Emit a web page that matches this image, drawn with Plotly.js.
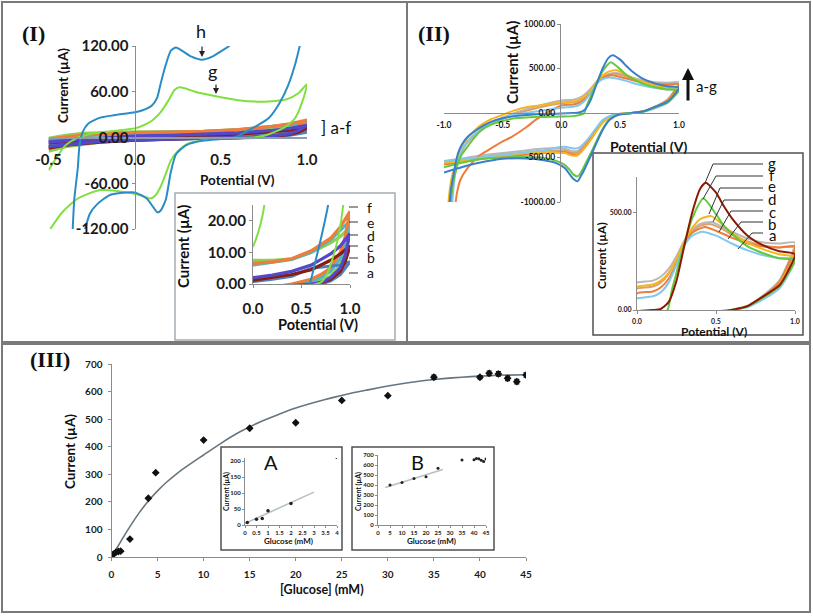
<!DOCTYPE html>
<html><head><meta charset="utf-8">
<script src="https://cdn.plot.ly/plotly-3.0.1.min.js"></script>
<style>html,body{margin:0;padding:0;background:#fff}#chart{width:813px;height:616px}</style>
</head><body><div id="chart"></div>
<script>
// ---------------- Panel I : CV curves (Potential V, Current µA) ----------------
const p1LoopX = [-0.5,-0.4,-0.3,-0.2,-0.1,0,0.2,0.4,0.6,0.8,0.9,1.0,0.95,0.9,0.8,0.7,0.6,0.4,0.2,0,-0.2,-0.4,-0.5];
const p1_a_y = [-5,-3,-2,-1,0,0.8,1.5,2.5,5,5.5,6,7, 5,3,1,0,-0.5,-1,-2,-3,-5,-8,-10];
const p1_b_y = [-7,-5,-3,-2,0,1.2,2,3,4.5,7.5,9.5,12, 7,4,1.5,0.3,-0.3,-1,-2,-3.5,-6,-10,-14];
const p1_c_y = [-1,3,5.5,6.5,7.5,7.5,7.5,8,10,13,15,18, 11,6,2.5,1,0,-1,-2,-3,-6,-12,-18];
const p1_d_y = [-6,-4,-2,-1,0.5,2,2.8,4,6,9.5,12,16, 9,5,2,0.5,0,-0.5,-1.5,-3,-5,-9,-12];
const p1_e_y = [-3,0,2,3.5,5,6,7,7.8,10,14,17,20, 13,8,4,2,1,-0.5,-1.5,-3,-5,-9,-14];
const p1_f_y = [-2,1,3,4,5,6.5,7,8,10.5,14.5,18,23, 15,10,5,3,1.5,0,-1,-2,-4,-8,-12];
const p1_g_x = [-0.5,-0.45,-0.4,-0.33,-0.25,-0.15,0,0.05,0.1,0.15,0.2,0.23,0.26,0.3,0.35,0.45,0.6,0.75,0.88,0.95,1.0,0.97,0.93,0.88,0.82,0.76,0.7,0.58,0.45,0.31,0.25,0.21,0.18,0.15,0.12,0.09,0.04,-0.04,-0.2,-0.33,-0.42,-0.49];
const p1_g_y = [-43,-25,-10,0,5,8,12,16,22,33,50,62,66,64,60,55,49,47,50,58,70,45,25,15,8,3,0.5,-0.5,-2,-8,-18,-30,-48,-65,-76,-80,-76,-72,-69,-80,-98,-120];
const p1_h_x = [0.55,0.5,0.45,0.39,0.33,0.28,0.24,0.21,0.18,0.15,0.13,0.1,0.05,0,-0.1,-0.2,-0.27,-0.3,-0.32,-0.33,-0.35,-0.36,null,
                -0.29,-0.26,-0.22,-0.14,0,0.07,0.11,0.13,0.15,0.18,0.21,0.24,0.3,0.4,0.5,0.58,0.65,0.72,0.78,0.84,0.89,0.93,0.96];
const p1_h_y = [120,113,106,102,106,113,118,114,95,70,52,42,36,33,30,26,18,8,-10,-40,-80,-122,null,
                -122,-100,-88,-75,-72,-80,-92,-98,-96,-82,-45,-22,-10,-4,-2,0,8,17,26,45,68,95,122];
const p1Labels = ['a','b','c','d','e','f','g','h'];

// ---------------- Panel II : CV curves with glucose ----------------
const p2LowerX = [0.95,0.9,0.8,0.7,0.6,0.5,0.45,0.4,0.35,0.3,0.25,0.2,0.16,0.137,0.1,0.07,0.03,-0.05,-0.15,-0.3,-0.5,-0.7,-0.85,-1.0];
const p2_a_upX = [-0.93,-0.92,-0.9,-0.87,-0.85,-0.8,-0.7,-0.6,-0.5,-0.4,-0.2,0,0.1,0.15,0.2,0.25,0.3,0.35,0.41,0.5,0.6,0.7,0.8,0.9,1.0];
const p2_a_upY = [-1050,-850,-650,-500,-420,-320,-200,-120,-60,-20,20,60,70,90,140,230,330,380,400,380,340,305,280,265,260];
const p2_a_loY = [170,110,55,15,0,-10,-20,-40,-80,-160,-250,-330,-380,-395,-398,-390,-380,-390,-420,-440,-470,-500,-520,-545];
const p2_b_upX = [-0.905,-0.89,-0.86,-0.8,-0.7,-0.62,-0.5,-0.42,-0.3,-0.22,-0.1,0,0.1,0.15,0.2,0.25,0.3,0.35,0.43,0.5,0.6,0.7,0.8,0.9,1.0];
const p2_b_upY = [-1050,-900,-750,-620,-480,-414,-320,-265,-160,-78,20,85,95,115,160,240,340,395,425,405,370,340,325,320,325];
const p2_b_loY = [220,140,70,20,0,-10,-25,-55,-105,-190,-290,-380,-440,-465,-470,-455,-440,-440,-450,-470,-490,-520,-550,-580];
const p2_c_upX = [-0.95,-0.93,-0.91,-0.88,-0.85,-0.8,-0.7,-0.6,-0.5,-0.4,-0.2,0,0.1,0.15,0.2,0.25,0.3,0.35,0.4,0.47,0.55,0.6,0.7,0.8,0.9,1.0];
const p2_c_upY = [-1050,-800,-650,-520,-420,-320,-200,-110,-50,0,80,140,150,170,210,275,355,410,440,450,420,400,365,345,340,345];
const p2_c_loY = [230,150,75,22,2,-8,-20,-45,-90,-170,-260,-340,-400,-425,-430,-420,-405,-395,-400,-420,-450,-480,-510,-540];
const p2_d_upX = [-0.965,-0.95,-0.93,-0.91,-0.88,-0.85,-0.8,-0.76,-0.7,-0.6,-0.5,-0.4,-0.28,-0.1,0,0.1,0.15,0.2,0.25,0.3,0.35,0.4,0.47,0.55,0.6,0.7,0.8,0.9,1.0];
const p2_d_upY = [-1050,-850,-700,-620,-480,-380,-280,-227,-150,-70,-20,30,70,100,120,130,150,190,260,350,420,465,480,430,395,345,310,285,270];
const p2_d_loY = [200,130,65,18,0,-10,-25,-55,-110,-200,-300,-390,-450,-475,-481,-470,-450,-445,-440,-450,-480,-510,-540,-560];
const p2_e_upX = [-0.94,-0.925,-0.9,-0.87,-0.84,-0.8,-0.7,-0.6,-0.5,-0.4,-0.2,0,0.1,0.15,0.2,0.25,0.3,0.35,0.4,0.46,0.55,0.6,0.7,0.8,0.9,1.0];
const p2_e_upY = [-1050,-820,-640,-500,-410,-330,-210,-125,-65,-15,60,110,120,140,185,260,345,400,430,440,410,385,350,330,320,320];
const p2_e_loY = [210,140,70,20,1,-9,-22,-50,-100,-180,-275,-360,-420,-445,-450,-440,-425,-420,-425,-445,-470,-500,-530,-560];
const p2_f_upX = [-0.95,-0.93,-0.91,-0.88,-0.85,-0.82,-0.75,-0.68,-0.6,-0.5,-0.4,-0.2,0,0.1,0.19,0.22,0.25,0.3,0.35,0.42,0.5,0.55,0.6,0.7,0.8,0.9,1.0];
const p2_f_upY = [-1050,-850,-700,-560,-470,-414,-290,-190,-130,-90,-60,-45,-40,-35,-5,100,190,340,470,570,490,430,390,325,290,265,255];
const p2_f_loY = [180,120,65,18,0,-15,-35,-85,-180,-310,-450,-580,-680,-712,-690,-640,-585,-535,-505,-495,-500,-520,-560,-610];
const p2_g_upX = [-0.955,-0.94,-0.92,-0.9,-0.88,-0.85,-0.8,-0.7,-0.6,-0.5,-0.4,-0.2,0,0.1,0.15,0.2,0.25,0.3,0.35,0.4,0.435,0.5,0.55,0.6,0.7,0.8,0.9,1.0];
const p2_g_upY = [-1050,-850,-700,-560,-450,-360,-270,-170,-100,-60,-35,-15,-5,0,5,40,150,330,500,620,650,600,530,470,380,330,300,285];
const p2_g_loY = [190,125,70,20,0,-15,-40,-90,-190,-330,-480,-620,-720,-768,-740,-690,-620,-560,-530,-510,-515,-560,-610,-670];
const p2Labels = ['a','b','c','d','e','f','g'];

// ---------------- Panel III : calibration ----------------
const glucose = [0,0.2,0.5,0.75,1,2,4,4.8,10,15,20,25,30,35,40,41,42,43,44,45];
const current = [3,10,18,20,21,65,213,306,424,467,487,568,585,652,652,666,664,648,636,660];
const currentErr = [0,0,0,0,0,0,0,0,0,0,0,0,0,8,6,8,8,8,8,8];
const fitGlucose = [0,1,2,3,4,5,6,7,8,9,10,12,14,16,18,20,22,24,26,28,30,32,34,36,38,40,42,45];
const fitCurrent = [0,56,110,160,203,240,272,300,325,348,370,415,455,488,515,540,560,578,594,607,620,631,640,647,652,656,659,661];
const insetA_x = [0.1,0.5,0.75,1,2,4];
const insetA_y = [8,18,20,45,67,212];
const insetA_fitX = [0,3];
const insetA_fitY = [5,103];
const insetB_x = [5,10,15,20,25,35,40,41,42,43,44,45];
const insetB_y = [400,425,465,483,568,650,652,666,663,648,635,660];
const insetB_fitX = [3,27];
const insetB_fitY = [375,555];

// ---------------- helpers ----------------
const W = 813, H = 616;
const fx = p => p / W, fy = p => 1 - p / H;
const FONT = 'Lato, "Open Sans", "DejaVu Sans", sans-serif';
const SERIF = '"Liberation Serif", "DejaVu Serif", serif';
const tf = (s) => ({family: FONT, size: s, color: '#1a1a1a', weight: 700});
const fmt = (v, d) => (v < 0 ? '-' : '') + Math.abs(v).toFixed(d);

function ln(x, y, color, width, xa, ya, shape) {
  return {type: 'scatter', mode: 'lines', x, y, xaxis: xa, yaxis: ya, hoverinfo: 'skip',
          line: {color, width, shape: shape || 'linear', smoothing: 0.6}, connectgaps: false};
}

const p1Colors = {a:'#4f81bd', b:'#8b1c10', c:'#8fcf55', d:'#5548c8', e:'#4bb8c8', f:'#f07c3a', g:'#80e040', h:'#2a8cc4'};
const p1Series = {a:p1_a_y, b:p1_b_y, c:p1_c_y, d:p1_d_y, e:p1_e_y, f:p1_f_y};
const p2Colors = {a:'#82c8ee', b:'#ef7d3a', c:'#b8b8b8', d:'#f5b51e', e:'#d9a070', f:'#62c83e', g:'#3a7fc8'};
const p2InsetG = '#8b1a00';
const p2Data = {
  a:[p2_a_upX,p2_a_upY,p2_a_loY], b:[p2_b_upX,p2_b_upY,p2_b_loY], c:[p2_c_upX,p2_c_upY,p2_c_loY],
  d:[p2_d_upX,p2_d_upY,p2_d_loY], e:[p2_e_upX,p2_e_upY,p2_e_loY], f:[p2_f_upX,p2_f_upY,p2_f_loY],
  g:[p2_g_upX,p2_g_upY,p2_g_loY]};

const traces = [];
// Panel I main + inset
[['x','y'],['x2','y2']].forEach(([xa,ya]) => {
  ['c','e','f','a','b','d'].forEach(k => traces.push(ln(p1LoopX, p1Series[k], p1Colors[k], 3.2, xa, ya)));
  traces.push(ln(p1_g_x, p1_g_y, p1Colors.g, 2, xa, ya, 'spline'));
  traces.push(ln(p1_h_x, p1_h_y, p1Colors.h, 2, xa, ya, 'spline'));
});
// Panel II main + inset
[['x3','y3'],['x4','y4']].forEach(([xa,ya], idx) => {
  ['c','e','b','d','a','f','g'].forEach(k => {
    const [ux, uy, ly] = p2Data[k];
    const col = (idx === 1 && k === 'g') ? p2InsetG : p2Colors[k];
    traces.push(ln(ux.concat(p2LowerX), uy.concat(ly), col, 2, xa, ya, 'spline'));
  });
});
// Panel III
traces.push(ln(fitGlucose, fitCurrent, '#66757f', 1.6, 'x5', 'y5', 'spline'));
traces.push({type:'scatter', mode:'markers', x: glucose, y: current, xaxis:'x5', yaxis:'y5', hoverinfo:'skip',
  marker:{color:'#111', size:6, symbol:'diamond'},
  error_y:{type:'data', array: currentErr, visible:true, color:'#111', thickness:1.2, width:2.5}});
traces.push(ln(insetA_fitX, insetA_fitY, '#b6c0c4', 1.6, 'x6', 'y6'));
traces.push({type:'scatter', mode:'markers', x: insetA_x, y: insetA_y, xaxis:'x6', yaxis:'y6', hoverinfo:'skip',
  marker:{color:'#222', size:3.5}});
traces.push(ln(insetB_fitX, insetB_fitY, '#b6c0c4', 1.6, 'x7', 'y7'));
traces.push({type:'scatter', mode:'markers', x: insetB_x, y: insetB_y, xaxis:'x7', yaxis:'y7', hoverinfo:'skip',
  marker:{color:'#222', size:3}});

// ---------------- axes ----------------
const AX = '#8c8c8c';
function axis(o) {
  return Object.assign({showgrid:false, zeroline:false, showline:true, linecolor:AX, linewidth:1,
    ticks:'outside', ticklen:3, tickcolor:AX, fixedrange:true}, o);
}
const layout = {
  width: W, height: H, margin:{l:0,r:0,t:0,b:0}, paper_bgcolor:'#fff', plot_bgcolor:'rgba(0,0,0,0)',
  showlegend:false, font:{family: FONT},
  // Panel I main
  xaxis: axis({domain:[fx(48.5),fx(307)], range:[-0.5,1.0], anchor:'free', position:fy(137), linecolor:'#8d9db0', linewidth:1.5,
    ticks:'', tickvals:[-0.5,0,0.5,1], ticktext:[-0.5,0,0.5,1].map(v=>fmt(v,1)), tickfont:tf(15), ticklabelstandoff:8}),
  yaxis: axis({domain:[fy(229),fy(46)], range:[-120,120], anchor:'free', position:fx(134.5),
    tickvals:[-120,-60,0,60,120], ticktext:[-120,-60,0,60,120].map(v=>fmt(v,2)), tickfont:tf(15)}),
  // Panel I inset
  xaxis2: axis({domain:[fx(253),fx(350)], range:[0,1], anchor:'y2',
    tickvals:[0,0.5,1], ticktext:['0.0','0.5','1.0'], tickfont:tf(15), ticklabelstandoff:8}),
  yaxis2: axis({domain:[fy(284),fy(205)], range:[0,25], anchor:'x2',
    tickvals:[0,10,20], ticktext:['0.00','10.00','20.00'], tickfont:tf(15)}),
  // Panel II main
  xaxis3: axis({domain:[fx(444),fx(679)], range:[-1,1], anchor:'free', position:fy(113),
    ticks:'', tickvals:[-1,-0.5,0,0.5,1], ticktext:[-1,-0.5,0,0.5,1].map(v=>fmt(v,1)), tickfont:tf(8.5), ticklabelstandoff:4}),
  yaxis3: axis({domain:[fy(202),fy(24)], range:[-1000,1000], anchor:'free', position:fx(560),
    tickvals:[-1000,-500,0,500,1000], ticktext:[-1000,-500,0,500,1000].map(v=>fmt(v,2)), tickfont:tf(8.5)}),
  // Panel II inset
  xaxis4: axis({domain:[fx(637),fx(795)], range:[0,1], anchor:'y4',
    tickvals:[0,0.5,1], ticktext:['0.0','0.5','1.0'], tickfont:tf(7), ticklabelstandoff:2}),
  yaxis4: axis({domain:[fy(310),fy(177)], range:[0,680], anchor:'x4',
    tickvals:[0,500], ticktext:['0.00','500.00'], tickfont:tf(7)}),
  // Panel III main
  xaxis5: axis({domain:[fx(111.5),fx(526)], range:[0,45], anchor:'y5',
    tickvals:[0,5,10,15,20,25,30,35,40,45], ticktext:['0','5','10','15','20','25','30','35','40','45'], tickfont:tf(10), ticklabelstandoff:5}),
  yaxis5: axis({domain:[fy(557),fy(364)], range:[0,700], anchor:'x5',
    tickvals:[0,100,200,300,400,500,600,700], ticktext:['0','100','200','300','400','500','600','700'], tickfont:tf(10), ticklabelstandoff:3}),
  // Inset A
  xaxis6: axis({domain:[fx(245),fx(337)], range:[0,4], anchor:'y6', ticklen:2,
    tickvals:[0,0.5,1,1.5,2,2.5,3,3.5,4], ticktext:['0','0.5','1','1.5','2','2.5','3','3.5','4'], tickfont:tf(6)}),
  yaxis6: axis({domain:[fy(525),fy(458)], range:[0,210], anchor:'x6', ticklen:2,
    tickvals:[0,50,100,150,200], ticktext:['0','50','100','150','200'], tickfont:tf(6)}),
  // Inset B
  xaxis7: axis({domain:[fx(378),fx(486)], range:[0,45], anchor:'y7', ticklen:2,
    tickvals:[0,5,10,15,20,25,30,35,40,45], ticktext:['0','5','10','15','20','25','30','35','40','45'], tickfont:tf(6)}),
  yaxis7: axis({domain:[fy(525),fy(455)], range:[0,700], anchor:'x7', ticklen:2,
    tickvals:[0,100,200,300,400,500,600,700], ticktext:['0','100','200','300','400','500','600','700'], tickfont:tf(6)}),
};

// ---------------- shapes ----------------
const rect = (x0,y0,x1,y1,color,w) => ({type:'rect', xref:'paper', yref:'paper', x0:fx(x0), x1:fx(x1), y0:fy(y1), y1:fy(y0),
  line:{color, width:w}, fillcolor:'rgba(0,0,0,0)', layer:'below'});
const path = (pts, color, w) => ({type:'path', xref:'paper', yref:'paper', layer:'above',
  path: pts.map((p,i)=>(i?'L':'M')+fx(p[0])+','+fy(p[1])).join(' '), line:{color, width:w}});
const shapes = [
  rect(2,2,407,342,'#7a7a7a',2), rect(407,2,810,342,'#7a7a7a',2), rect(2,344,810,612,'#7a7a7a',2),
  rect(175,193,395,340,'#a3adb5',1.5), rect(593,153,803,335,'#505050',1.5),
  rect(221,447,342,550,'#505050',1.5), rect(352,447,494,550,'#505050',1.5),
];
// leader lines, panel I inset (a..f)
const p1InsetLabelY = {f:207, e:222, d:235, c:246, b:258, a:273};
Object.entries(p1InsetLabelY).forEach(([k,y]) => shapes.push(path([[349,y],[358,y]], '#333', 1)));
// leader lines, panel II inset (a..g)
const p2Leaders = {
  g:[[763,164],[713,164],[705,183]], f:[[763,176],[716,176],[703,199]], e:[[763,188],[720,188],[709,214]],
  d:[[763,200],[724,200],[713,222]], c:[[763,211],[731,211],[719,232]], b:[[763,222],[741,222],[728,239]],
  a:[[763,233],[752,233],[738,249]]};
Object.values(p2Leaders).forEach(pts => shapes.push(path(pts, '#333', 1)));
layout.shapes = shapes;

// ---------------- annotations ----------------
const ann = (text, x, y, size, o) => Object.assign({text, xref:'paper', yref:'paper', x:fx(x), y:fy(y),
  showarrow:false, xanchor:'center', yanchor:'middle', font:{family:FONT, size, color:'#111'}}, o || {});
const bold = (s) => ({family:FONT, size:s, color:'#111', weight:700});
const annotations = [
  ann('(I)', 33, 33, 22, {font:{family:SERIF, size:22, color:'#111', weight:700}}),
  ann('(II)', 434, 33, 22, {font:{family:SERIF, size:22, color:'#111', weight:700}}),
  ann('(III)', 50, 359, 22, {font:{family:SERIF, size:22, color:'#111', weight:700}}),
  ann('Current (µA)', 63, 86, 13.5, {textangle:-90, font:bold(13.5)}),
  ann('Potential (V)', 237, 180, 13.5, {font:bold(13.5)}),
  ann('Current (µA)', 183, 247, 15, {textangle:-90, font:bold(15)}),
  ann('Potential (V)', 318, 324, 14.5, {font:bold(14.5)}),
  ann('Current (µA)', 512, 63, 15, {textangle:-90, font:bold(15)}),
  ann('Potential (V)', 648, 146, 14, {font:bold(14)}),
  ann('Current (µA)', 601, 256, 12, {textangle:-90, font:bold(12)}),
  ann('Potential (V)', 714, 331, 12, {font:bold(12)}),
  ann('Current (µA)', 70, 452, 13.5, {textangle:-90, font:bold(13.5)}),
  ann('[Glucose] (mM)', 322, 589, 12.5, {font:bold(12.5)}),
  ann('Current (µA)', 226, 492, 7, {textangle:-90, font:bold(7)}),
  ann('Glucose (mM)', 288, 541, 8, {font:bold(8)}),
  ann('Current (µA)', 358, 492, 7, {textangle:-90, font:bold(7)}),
  ann('Glucose (mM)', 431, 541, 8, {font:bold(8)}),
  ann('A', 271, 462, 20), ann('B', 417, 462, 20),
  ann('h', 201, 31, 18), ann('g', 212, 71, 18),
  ann('', 202, 57, 10, {showarrow:true, ax:0, ay:-12, arrowhead:2, arrowsize:1, arrowwidth:1.2, arrowcolor:'#222'}),
  ann('', 216, 94, 10, {showarrow:true, ax:0, ay:-11, arrowhead:2, arrowsize:1, arrowwidth:1.2, arrowcolor:'#222'}),
  ann('] a-f', 336, 127, 17),
  ann('', 688, 68, 10, {showarrow:true, ax:0, ay:34, arrowhead:2, arrowsize:0.8, arrowwidth:3, arrowcolor:'#111'}),
  ann('a-g', 706, 86, 15),
];
Object.entries(p1InsetLabelY).forEach(([k,y]) => annotations.push(ann(k, 365, y, 14, {xanchor:'left'})));
const p2InsetLabelY = {g:163, f:175, e:186, d:199, c:212, b:224, a:235};
Object.entries(p2InsetLabelY).forEach(([k,y]) => annotations.push(ann(k, 772, y, 15)));
layout.annotations = annotations;

Plotly.newPlot('chart', traces, layout, {staticPlot:true, displayModeBar:false});
</script></body></html>
